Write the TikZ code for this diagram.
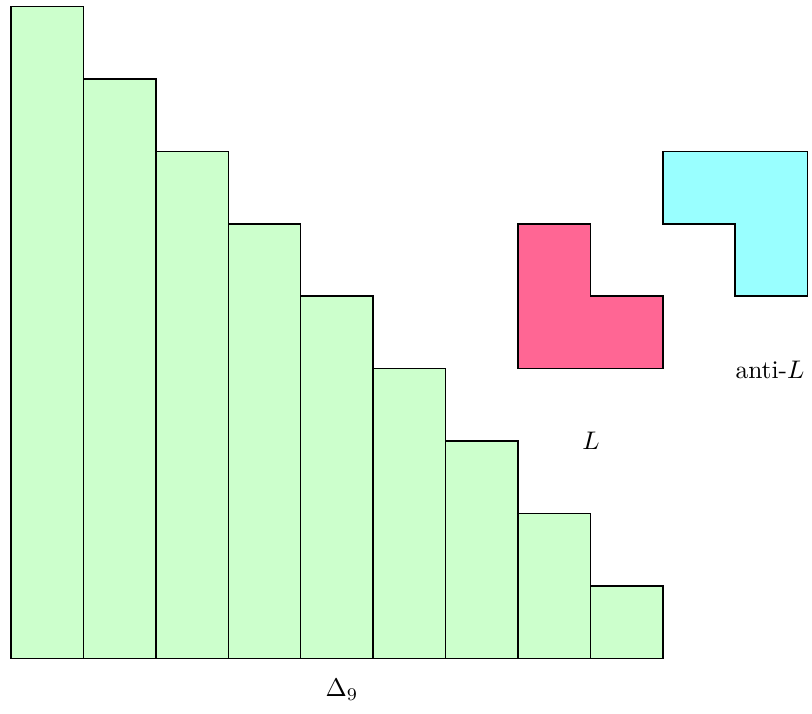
\documentclass[tikz,border=0pt]{standalone}
\usepackage{amsmath, amssymb}
\usepackage{tikz}

\definecolor{barfill}{RGB}{204,255,204}
\definecolor{lfill}{RGB}{255,102,148}
\definecolor{antifill}{RGB}{153,255,255}

\begin{document}
\begin{tikzpicture}[line width=0.6pt]
  \useasboundingbox (-0.152, -0.76) rectangle (11.06, 9.09);
  \foreach \k in {1,...,9} {
    \draw[fill=barfill] ({\k-1}, 0) rectangle (\k, {10-\k});
  }
  \node (delta) at (4.57, -0.44) {$\Delta_9$};
  \draw[fill=lfill] (7, 4) -- (9, 4) -- (9, 5) -- (8, 5) -- (8, 6) -- (7, 6) -- cycle;
  \node (lname) at (8.01, 3.01) {$L$};
  \draw[fill=antifill] (9, 7) -- (11, 7) -- (11, 5) -- (10, 5) -- (10, 6) -- (9, 6) -- cycle;
  \node (antiname) at (10.48, 3.98) {anti-$L$};
\end{tikzpicture}
\end{document}
